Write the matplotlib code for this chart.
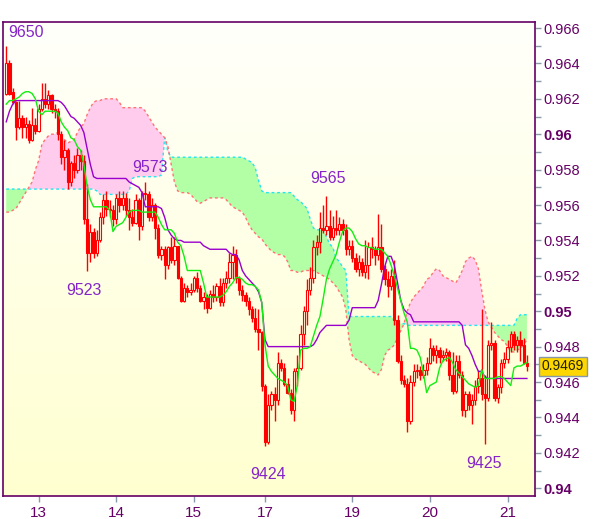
import numpy as np
import matplotlib
matplotlib.use("Agg")
import matplotlib.pyplot as plt
from matplotlib.colors import LinearSegmentedColormap
from matplotlib.transforms import blended_transform_factory

plt.rcParams['font.family'] = ['Liberation Sans', 'DejaVu Sans']

# ---- data (prices in pips, 1 pip = 0.0001) ----
opens_pips = [
    9623, 9640, 9624, 9618, 9604, 9609, 9604, 9606, 9597, 9605,
    9602, 9614, 9620, 9617, 9622, 9614, 9613, 9600, 9587, 9591,
    9573, 9584, 9580, 9588, 9585, 9552, 9533, 9545, 9533, 9540,
    9553, 9563, 9558, 9557, 9552, 9564, 9560, 9564, 9557, 9553,
    9550, 9563, 9548, 9567, 9566, 9553, 9560, 9547, 9532, 9535,
    9526, 9536, 9529, 9537, 9519, 9506, 9513, 9511, 9512, 9519,
    9513, 9506, 9508, 9502, 9510, 9508, 9514, 9505, 9516, 9519,
    9528, 9532, 9519, 9512, 9509, 9506, 9501, 9496, 9490, 9488,
    9458, 9426, 9447, 9453, 9450, 9471, 9468, 9459, 9454, 9444,
    9466, 9468, 9487, 9500, 9512, 9519, 9536, 9539, 9547, 9546,
    9548, 9542, 9547, 9546, 9549, 9546, 9535, 9537, 9530, 9524,
    9528, 9522, 9526, 9536, 9535, 9532, 9536, 9524, 9518, 9514,
    9520, 9495, 9472, 9461, 9459, 9438, 9460, 9466, 9467, 9464,
    9467, 9471, 9479, 9475, 9478, 9474, 9475, 9477, 9464, 9455,
    9472, 9464, 9444, 9453, 9447, 9450, 9458, 9462, 9453, 9451,
    9481, 9482, 9451, 9457, 9471, 9473, 9480, 9487, 9481, 9484,
    9481, 9471]
highs_pips = [
    9650, 9642, 9626, 9619, 9619, 9611, 9610, 9608, 9615, 9609,
    9617, 9629, 9629, 9625, 9623, 9617, 9615, 9602, 9597, 9592,
    9585, 9588, 9592, 9591, 9588, 9572, 9549, 9547, 9546, 9556,
    9566, 9568, 9563, 9560, 9566, 9568, 9568, 9567, 9564, 9558,
    9566, 9564, 9568, 9573, 9568, 9564, 9561, 9549, 9537, 9537,
    9537, 9542, 9542, 9537, 9520, 9516, 9515, 9516, 9520, 9522,
    9515, 9511, 9510, 9512, 9515, 9516, 9519, 9519, 9523, 9533,
    9537, 9535, 9520, 9515, 9511, 9508, 9503, 9502, 9501, 9489,
    9459, 9453, 9455, 9457, 9477, 9473, 9471, 9462, 9456, 9468,
    9475, 9492, 9503, 9518, 9525, 9540, 9543, 9556, 9560, 9565,
    9557, 9554, 9557, 9553, 9552, 9549, 9540, 9540, 9533, 9532,
    9530, 9540, 9539, 9542, 9537, 9555, 9549, 9526, 9523, 9524,
    9529, 9498, 9475, 9464, 9462, 9464, 9470, 9470, 9469, 9470,
    9474, 9485, 9481, 9481, 9480, 9478, 9479, 9478, 9477, 9475,
    9475, 9466, 9455, 9455, 9453, 9461, 9467, 9501, 9464, 9484,
    9494, 9484, 9459, 9473, 9477, 9484, 9489, 9489, 9486, 9489,
    9485, 9475]
lows_pips = [
    9622, 9622, 9617, 9597, 9603, 9598, 9598, 9595, 9596, 9600,
    9601, 9613, 9615, 9614, 9612, 9609, 9597, 9583, 9580, 9569,
    9571, 9575, 9578, 9580, 9549, 9523, 9528, 9530, 9531, 9539,
    9549, 9554, 9553, 9548, 9549, 9556, 9557, 9554, 9546, 9548,
    9549, 9540, 9546, 9563, 9551, 9551, 9541, 9530, 9529, 9518,
    9524, 9527, 9526, 9518, 9505, 9505, 9508, 9509, 9511, 9511,
    9505, 9501, 9499, 9501, 9505, 9506, 9503, 9503, 9513, 9516,
    9518, 9516, 9509, 9506, 9503, 9498, 9494, 9488, 9478, 9455,
    9424, 9425, 9444, 9438, 9447, 9466, 9458, 9453, 9442, 9438,
    9458, 9467, 9481, 9492, 9509, 9516, 9532, 9533, 9544, 9543,
    9540, 9540, 9543, 9543, 9543, 9532, 9532, 9528, 9522, 9520,
    9520, 9519, 9518, 9530, 9526, 9529, 9522, 9515, 9508, 9512,
    9492, 9471, 9459, 9457, 9432, 9436, 9458, 9462, 9461, 9462,
    9464, 9470, 9472, 9471, 9471, 9472, 9472, 9461, 9453, 9454,
    9462, 9441, 9440, 9444, 9436, 9447, 9454, 9450, 9425, 9449,
    9478, 9449, 9448, 9454, 9468, 9471, 9477, 9478, 9477, 9472,
    9470, 9466]
closes_pips = [
    9640, 9623, 9618, 9604, 9609, 9604, 9606, 9597, 9605, 9602,
    9614, 9620, 9617, 9622, 9614, 9613, 9600, 9587, 9591, 9573,
    9584, 9580, 9588, 9585, 9552, 9533, 9545, 9533, 9540, 9553,
    9563, 9558, 9557, 9552, 9564, 9560, 9564, 9557, 9553, 9550,
    9563, 9548, 9567, 9566, 9553, 9560, 9547, 9532, 9535, 9526,
    9536, 9529, 9537, 9519, 9506, 9513, 9511, 9512, 9519, 9513,
    9506, 9508, 9502, 9510, 9508, 9514, 9505, 9516, 9519, 9528,
    9532, 9519, 9512, 9509, 9506, 9501, 9496, 9490, 9488, 9458,
    9426, 9447, 9453, 9450, 9471, 9468, 9459, 9454, 9444, 9466,
    9468, 9487, 9500, 9512, 9519, 9536, 9539, 9547, 9546, 9548,
    9542, 9547, 9546, 9549, 9546, 9535, 9537, 9530, 9524, 9528,
    9522, 9526, 9536, 9535, 9532, 9536, 9524, 9518, 9514, 9520,
    9495, 9472, 9461, 9459, 9438, 9460, 9466, 9467, 9464, 9467,
    9471, 9479, 9475, 9478, 9474, 9475, 9477, 9464, 9455, 9472,
    9464, 9444, 9453, 9447, 9450, 9458, 9462, 9453, 9451, 9481,
    9482, 9451, 9457, 9471, 9473, 9480, 9487, 9481, 9484, 9481,
    9471, 9469]
tenkan_pips = [
    9617, 9619, 9619, 9620, 9621, 9623, 9624, 9624, 9623, 9620,
    9613, 9611, 9613, 9613, 9613, 9613, 9612, 9607, 9604, 9602,
    9598, 9597, 9593, 9591, 9583, 9571, 9563, 9559, 9559, 9559,
    9559, 9559, 9557, 9545, 9548, 9549, 9550, 9553, 9556, 9557,
    9557, 9557, 9556, 9556, 9556, 9556, 9556, 9553, 9549, 9546,
    9546, 9546, 9544, 9539, 9537, 9531, 9523, 9523, 9523, 9523,
    9523, 9516, 9508, 9508, 9508, 9508, 9508, 9509, 9511, 9514,
    9516, 9519, 9519, 9518, 9516, 9515, 9515, 9514, 9512, 9505,
    9481, 9469, 9466, 9464, 9462, 9461, 9460, 9458, 9450, 9449,
    9458, 9478, 9479, 9479, 9480, 9486, 9492, 9497, 9507, 9518,
    9524, 9528, 9532, 9539, 9545, 9547, 9547, 9545, 9541, 9538,
    9537, 9537, 9536, 9536, 9535, 9535, 9535, 9533, 9531, 9526,
    9520, 9513, 9506, 9499, 9494, 9479, 9479, 9478, 9474, 9465,
    9454, 9458, 9459, 9460, 9468, 9472, 9473, 9474, 9471, 9467,
    9465, 9463, 9461, 9459, 9458, 9457, 9458, 9467, 9462, 9462,
    9462, 9462, 9463, 9463, 9462, 9460, 9458, 9468, 9469, 9469,
    9470, 9471]
kijun_pips = [
    9607, 9613, 9617, 9619, 9619, 9619, 9619, 9619, 9619, 9619,
    9619, 9619, 9619, 9619, 9619, 9619, 9619, 9618, 9616, 9613,
    9610, 9609, 9607, 9605, 9601, 9592, 9583, 9576, 9575, 9575,
    9575, 9575, 9575, 9575, 9575, 9575, 9575, 9575, 9573, 9572,
    9571, 9570, 9567, 9559, 9559, 9559, 9559, 9559, 9558, 9553,
    9546, 9543, 9541, 9540, 9540, 9539, 9539, 9539, 9539, 9539,
    9539, 9537, 9536, 9535, 9535, 9535, 9535, 9535, 9535, 9533,
    9532, 9532, 9529, 9523, 9520, 9518, 9516, 9514, 9511, 9505,
    9484, 9480, 9480, 9480, 9480, 9480, 9480, 9480, 9480, 9480,
    9480, 9480, 9480, 9480, 9480, 9481, 9484, 9488, 9490, 9492,
    9492, 9492, 9492, 9492, 9492, 9492, 9495, 9502, 9502, 9502,
    9502, 9502, 9502, 9502, 9502, 9506, 9515, 9525, 9531, 9531,
    9526, 9516, 9506, 9501, 9499, 9498, 9494, 9494, 9494, 9494,
    9494, 9494, 9494, 9494, 9494, 9494, 9494, 9494, 9494, 9494,
    9494, 9492, 9481, 9479, 9475, 9470, 9466, 9466, 9463, 9462,
    9462, 9462, 9462, 9462, 9462, 9462, 9462, 9462, 9462, 9462,
    9462, 9462]
span_a_pips = [
    9569, 9569, 9569, 9569, 9569, 9569, 9569, 9569, 9569, 9569,
    9569, 9569, 9569, 9569, 9569, 9569, 9569, 9569, 9569, 9569,
    9569, 9569, 9569, 9569, 9569, 9569, 9569, 9569, 9568, 9566,
    9566, 9566, 9566, 9566, 9566, 9566, 9566, 9566, 9568, 9575,
    9576, 9576, 9576, 9576, 9576, 9576, 9576, 9576, 9577, 9598,
    9590, 9587, 9587, 9587, 9587, 9587, 9587, 9587, 9587, 9587,
    9587, 9587, 9587, 9587, 9587, 9587, 9587, 9587, 9587, 9587,
    9587, 9587, 9587, 9587, 9586, 9585, 9584, 9581, 9574, 9568,
    9567, 9567, 9567, 9567, 9567, 9567, 9567, 9567, 9567, 9565,
    9563, 9562, 9560, 9558, 9552, 9547, 9546, 9546, 9546, 9542,
    9538, 9536, 9530, 9528, 9525, 9523, 9497, 9497, 9497, 9497,
    9497, 9497, 9497, 9497, 9497, 9497, 9497, 9497, 9497, 9497,
    9495, 9494, 9493, 9493, 9492, 9492, 9492, 9492, 9492, 9492,
    9492, 9492, 9492, 9492, 9492, 9492, 9492, 9492, 9492, 9492,
    9492, 9492, 9492, 9492, 9492, 9492, 9492, 9492, 9492, 9492,
    9492, 9492, 9492, 9492, 9492, 9492, 9492, 9492, 9496, 9498,
    9498, 9498]
span_b_pips = [
    9556, 9556, 9557, 9558, 9561, 9564, 9567, 9570, 9573, 9580,
    9585, 9594, 9597, 9599, 9600, 9600, 9601, 9599, 9597, 9595,
    9596, 9597, 9601, 9604, 9606, 9611, 9615, 9618, 9619, 9619,
    9620, 9620, 9620, 9620, 9620, 9618, 9615, 9615, 9615, 9615,
    9615, 9615, 9615, 9613, 9610, 9607, 9604, 9602, 9600, 9598,
    9593, 9583, 9573, 9568, 9567, 9567, 9567, 9566, 9564, 9562,
    9561, 9562, 9563, 9564, 9564, 9564, 9564, 9564, 9563, 9561,
    9559, 9558, 9557, 9556, 9553, 9549, 9546, 9544, 9542, 9541,
    9538, 9536, 9534, 9533, 9532, 9532, 9531, 9528, 9523, 9523,
    9522, 9522, 9523, 9523, 9523, 9523, 9522, 9521, 9520, 9519,
    9518, 9516, 9514, 9511, 9508, 9501, 9484, 9475, 9473, 9472,
    9471, 9470, 9468, 9466, 9465, 9464, 9467, 9475, 9478, 9479,
    9481, 9485, 9489, 9493, 9500, 9505, 9508, 9510, 9512, 9514,
    9518, 9519, 9522, 9524, 9523, 9520, 9519, 9518, 9517, 9516,
    9519, 9523, 9528, 9530, 9531, 9529, 9524, 9512, 9501, 9494,
    9491, 9488, 9486, 9484, 9483, 9480, 9477, 9477, 9478, 9479,
    9481, 9484]

day_tick_bars = [10, 34, 58, 80, 107, 131, 155]
day_tick_labels = ['13', '14', '15', '17', '19', '20', '21']
y_ticks = [0.940, 0.942, 0.944, 0.946, 0.948, 0.950, 0.952, 0.954,
           0.956, 0.958, 0.960, 0.962, 0.964, 0.966]
y_tick_labels = ['0.94', '0.942', '0.944', '0.946', '0.948', '0.95', '0.952',
                 '0.954', '0.956', '0.958', '0.96', '0.962', '0.964', '0.966']
bold_labels = ['0.94', '0.95', '0.96']

# extreme annotations: (bar, kind, dx_pt, dy_pt, ha)
annot_bars = [0, 43, 99, 25, 80, 148]
annot_kind = ['high', 'high', 'high', 'low', 'low', 'low']
annot_dx = [1.3, 3.6, 1.4, -2.2, 2.2, -0.7]
annot_dy = [6.3, 7.2, 9.2, -17.6, -23.8, -17.3]
annot_ha = ['left', 'center', 'center', 'center', 'center', 'center']

# ---- conversion ----
o = np.array(opens_pips) / 10000.0
h = np.array(highs_pips) / 10000.0
l = np.array(lows_pips) / 10000.0
c = np.array(closes_pips) / 10000.0
tenkan = np.array(tenkan_pips) / 10000.0
kijun = np.array(kijun_pips) / 10000.0
span_a = np.array(span_a_pips) / 10000.0
span_b = np.array(span_b_pips) / 10000.0
x = np.arange(len(c))

fig = plt.figure(figsize=(6.0, 5.19), dpi=100)
fig.patch.set_facecolor('white')
ax = fig.add_axes([3 / 600, 23 / 519, 532 / 600, 474 / 519])

# background gradient
cmap = LinearSegmentedColormap.from_list('bg', ['#FFFFFB', '#FFFFD0'])
grad = np.linspace(0, 1, 256).reshape(-1, 1)
ax.imshow(grad, extent=[0, 1, 0, 1], transform=ax.transAxes, aspect='auto',
          cmap=cmap, zorder=0, interpolation='bilinear')

# cloud
ax.fill_between(x, span_a, span_b, where=span_a >= span_b, interpolate=True,
                color='#B2FFA6', lw=0, zorder=1)
ax.fill_between(x, span_a, span_b, where=span_a < span_b, interpolate=True,
                color='#FFCCEE', lw=0, zorder=1)
ax.plot(x, span_a, color='#22E6F0', lw=1.0, ls=(0, (2, 2)), zorder=2)
ax.plot(x, span_b, color='#FF7373', lw=1.0, ls=(0, (2, 2)), zorder=2)

# candles
red = '#FF0000'
body_top = np.maximum(o, c)
body_bot = np.minimum(o, c)
ax.vlines(x, body_top, h, color=red, lw=1.0, zorder=3)
ax.vlines(x, l, body_bot, color=red, lw=1.0, zorder=3)
up = c > o
ax.bar(x[up], (body_top - body_bot)[up], bottom=body_bot[up], width=0.7,
       facecolor='none', edgecolor=red, lw=0.8, zorder=4)
ax.bar(x[~up], np.maximum((body_top - body_bot)[~up], 0.00002), bottom=body_bot[~up],
       width=0.7, facecolor=red, edgecolor=red, lw=0.8, zorder=4)

# lines
ax.plot(x, kijun, color='#9900CC', lw=1.0, zorder=5)
ax.plot(x, tenkan, color='#11EE11', lw=1.0, zorder=5)

# annotations of extremes
for b, k, dx, dy, ha in zip(annot_bars, annot_kind, annot_dx, annot_dy, annot_ha):
    v = h[b] if k == 'high' else l[b]
    ax.annotate(f"{int(round(v * 10000))}", xy=(b, v), xytext=(dx, dy),
                textcoords='offset points', ha=ha, va='baseline',
                fontsize=11.5, color='#8524C8', zorder=8)

ax.set_xlim(-1, 163.5)
ax.set_ylim(0.93956, 0.96634)

# axes styling
for s in ax.spines.values():
    s.set_color('#660066')
    s.set_linewidth(1.2)

ax.yaxis.tick_right()
ax.set_yticks(y_ticks)
ax.set_yticklabels(y_tick_labels)
ax.set_yticks([t + 0.001 for t in y_ticks[:-1]], minor=True)
ax.set_xticks(day_tick_bars)
ax.set_xticklabels(day_tick_labels)
ax.tick_params(axis='both', which='both', direction='out', color='#8899AA',
               labelcolor='#660066', width=1)
ax.tick_params(axis='y', which='major', length=4, pad=2, labelsize=10.5)
ax.tick_params(axis='y', which='minor', length=4)
ax.tick_params(axis='x', which='major', length=4, pad=3, labelsize=11)
for lab in ax.get_yticklabels():
    if lab.get_text() in bold_labels:
        lab.set_fontweight('bold')

# last price box
trans = blended_transform_factory(ax.transAxes, ax.transData)
ax.text(1.013, c[-1], f"{c[-1]:.4f}", transform=trans, ha='left', va='center',
        fontsize=10, color='#222200', clip_on=False, zorder=10,
        bbox=dict(boxstyle='square,pad=0.18', facecolor='#FFD700',
                  edgecolor='#8899AA', lw=1))

fig.savefig('out.png', dpi=100, facecolor='white')
